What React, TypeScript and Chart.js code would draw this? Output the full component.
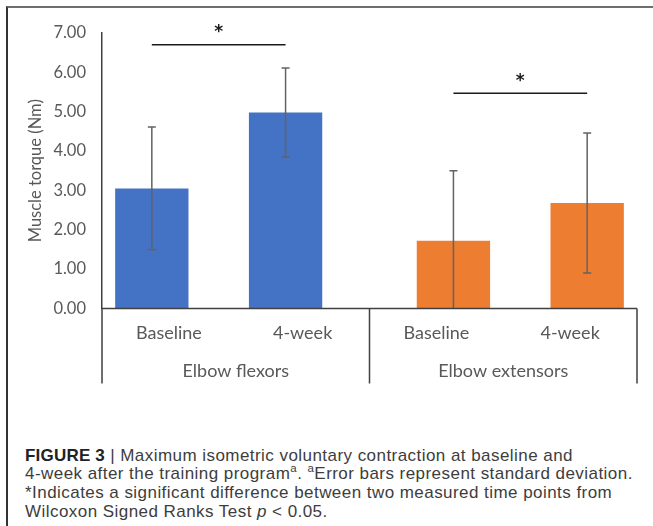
import React, { useEffect, useRef } from "react";
import { Chart, registerables } from "chart.js";

Chart.register(...registerables);

const categories = ["Baseline", "4-week", "Baseline", "4-week"];
const groupLabels = ["Elbow flexors", "Elbow extensors"];
const flexorMeans = [3.05, 4.98, null, null];
const flexorSD = [1.56, 1.13, null, null];
const extensorMeans = [null, null, 1.72, 2.68];
const extensorSD = [null, null, 1.78, 1.78];
const sigFrom = [0, 2];
const sigTo = [1, 3];
const sigLevel = [6.7, 5.47];
const yMin = 0;
const yMax = 7;
const yStep = 1;

const BLUE = "#4472C4";
const ORANGE = "#ED7D31";
const AXIS = "#404040";
const TEXT = "#595959";
const FONT = "Lato, 'Open Sans', sans-serif";

const overlayPlugin = {
  id: "overlay",
  afterDatasetsDraw(chart: any) {
    const ctx = chart.ctx;
    const y = chart.scales.y;
    const sds = [flexorSD, extensorSD];
    ctx.save();
    ctx.strokeStyle = "#636363";
    ctx.lineWidth = 1.5;
    chart.data.datasets.forEach((ds: any, di: number) => {
      const meta = chart.getDatasetMeta(di);
      ds.data.forEach((v: any, i: number) => {
        const sd = sds[di][i];
        if (v == null || sd == null) return;
        const x = meta.data[i].x;
        const hiV = v + sd;
        const loV = Math.max(yMin, v - sd);
        const top = y.getPixelForValue(hiV);
        const bot = y.getPixelForValue(loV);
        ctx.beginPath();
        ctx.moveTo(x, top);
        ctx.lineTo(x, bot);
        ctx.moveTo(x - 4, top);
        ctx.lineTo(x + 4, top);
        if (v - sd > yMin) {
          ctx.moveTo(x - 4, bot);
          ctx.lineTo(x + 4, bot);
        }
        ctx.stroke();
      });
    });
    ctx.restore();
  },
  afterDraw(chart: any) {
    const ctx = chart.ctx;
    const { left, right, bottom } = chart.chartArea;
    const y = chart.scales.y;
    const xs = chart.scales.x;
    ctx.save();
    const sepBottom = bottom + 75;
    const mid = (xs.getPixelForValue(1) + xs.getPixelForValue(2)) / 2;
    ctx.strokeStyle = AXIS;
    ctx.lineWidth = 1.5;
    ctx.beginPath();
    ctx.moveTo(left, bottom);
    ctx.lineTo(right, bottom);
    [left, mid, right].forEach((px) => {
      ctx.moveTo(px, bottom);
      ctx.lineTo(px, sepBottom);
    });
    ctx.stroke();
    ctx.fillStyle = TEXT;
    ctx.font = "18px " + FONT;
    ctx.textAlign = "center";
    ctx.textBaseline = "middle";
    groupLabels.forEach((g, gi) => {
      const cx = (xs.getPixelForValue(gi * 2) + xs.getPixelForValue(gi * 2 + 1)) / 2;
      ctx.fillText(g, cx, bottom + 63);
    });
    const meta0 = chart.getDatasetMeta(0);
    const meta1 = chart.getDatasetMeta(1);
    ctx.strokeStyle = "#1a1a1a";
    ctx.lineWidth = 1.5;
    ctx.fillStyle = "#1a1a1a";
    ctx.font = "bold 17px 'DejaVu Sans', sans-serif";
    sigFrom.forEach((f, k) => {
      const meta = k === 0 ? meta0 : meta1;
      const x1 = meta.data[f].x;
      const x2 = meta.data[sigTo[k]].x;
      const py = y.getPixelForValue(sigLevel[k]);
      ctx.beginPath();
      ctx.moveTo(x1, py);
      ctx.lineTo(x2, py);
      ctx.stroke();
      ctx.fillText("*", (x1 + x2) / 2, py - 12);
    });
    ctx.restore();
  },
};

export default function App() {
  const ref = useRef<HTMLCanvasElement>(null);
  useEffect(() => {
    if (!ref.current) return;
    const chart = new Chart(ref.current, {
      type: "bar",
      data: {
        labels: categories,
        datasets: [
          {
            label: "Elbow flexors",
            data: flexorMeans,
            backgroundColor: BLUE,
            categoryPercentage: 0.51,
            barPercentage: 2.15,
          },
          {
            label: "Elbow extensors",
            data: extensorMeans,
            backgroundColor: ORANGE,
            categoryPercentage: 0.51,
            barPercentage: 2.15,
          },
        ],
      } as any,
      options: {
        responsive: false,
        animation: false,
        devicePixelRatio: 1,
        layout: { padding: { top: 33, right: 16, left: 0, bottom: 0 } },
        plugins: { legend: { display: false }, tooltip: { enabled: false } },
        scales: {
          x: {
            grid: { display: false, drawTicks: false },
            border: { display: false },
            ticks: {
              autoSkip: false,
              maxRotation: 0,
              padding: 14,
              color: TEXT,
              font: { family: FONT, size: 18 },
            },
            afterFit: (s: any) => {
              s.height = 91.5;
            },
          },
          y: {
            min: yMin,
            max: yMax,
            grid: { display: false, drawTicks: false },
            border: { display: true, color: AXIS, width: 1.5 },
            ticks: {
              stepSize: yStep,
              padding: 16,
              color: TEXT,
              font: { family: FONT, size: 16.5 },
              callback: (v: any) => Number(v).toFixed(2),
            },
            title: {
              display: true,
              text: "Muscle torque (Nm)",
              color: TEXT,
              font: { family: FONT, size: 16.5 },
              padding: { top: 26, bottom: 0 },
            },
            afterFit: (s: any) => {
              s.width = 102;
            },
          },
        },
      } as any,
      plugins: [overlayPlugin],
    });
    return () => chart.destroy();
  }, []);

  const sup: React.CSSProperties = { fontSize: 11.5, verticalAlign: "super", lineHeight: 0 };
  const line: React.CSSProperties = { height: 18.7, whiteSpace: "nowrap" };
  return (
    <div style={{ position: "absolute", left: 0, top: 0, width: 653, height: 526, background: "#fff", overflow: "hidden" }}>
      <div
        style={{
          position: "absolute",
          left: 6,
          top: 6,
          width: 660,
          height: 540,
          borderTop: "2px solid #6e6e6e",
          borderLeft: "2px solid #333",
        }}
      />
      <canvas ref={ref} width={653} height={400} style={{ position: "absolute", left: 0, top: 0, width: 653, height: 400 }} />
      <div
        style={{
          position: "absolute",
          left: 25,
          top: 446.5,
          fontFamily: "'Liberation Sans', Arial, sans-serif",
          fontSize: 17,
          letterSpacing: "0.45px",
          lineHeight: "18.7px",
          color: "#3d3d3d",
        }}
      >
        <div style={line}>
          <b style={{ color: "#222", letterSpacing: "0.2px" }}>FIGURE 3</b> | Maximum isometric voluntary contraction at baseline and
        </div>
        <div style={line}>
          4-week after the training program<span style={sup}>a</span>. <span style={sup}>a</span>Error bars represent standard deviation.
        </div>
        <div style={line}>*Indicates a significant difference between two measured time points from</div>
        <div style={line}>
          Wilcoxon Signed Ranks Test <i>p</i> &lt; 0.05.
        </div>
      </div>
    </div>
  );
}
